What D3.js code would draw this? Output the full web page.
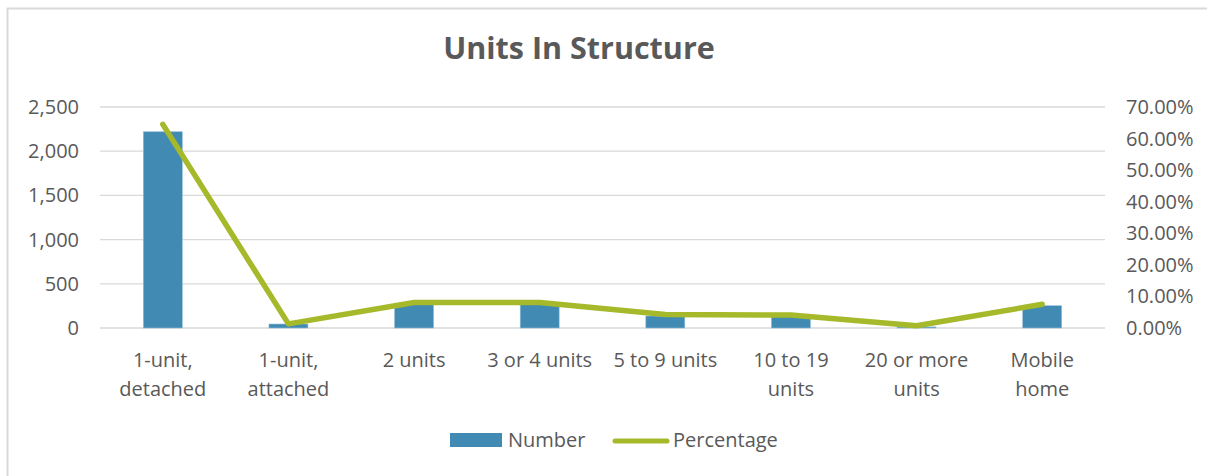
<!DOCTYPE html>
<html>
<head>
<meta charset="utf-8">
<script src="https://cdn.jsdelivr.net/npm/d3@7"></script>
<style>
  body { margin: 0; background: #fff; }
  text { font-family: "Open Sans", sans-serif; fill: #595959; }
</style>
</head>
<body>
<div id="chart"></div>
<script>
var categories = [["1-unit,", "detached"], ["1-unit,", "attached"], ["2 units"], ["3 or 4 units"],
    ["5 to 9 units"], ["10 to 19", "units"], ["20 or more", "units"], ["Mobile", "home"]];
var numbers = [2220, 45, 280, 280, 136, 130, 12, 252];
var percentages = [0.645, 0.013, 0.081, 0.081, 0.043, 0.041, 0.007, 0.075];
var leftTicks = [0, 500, 1000, 1500, 2000, 2500];
var rightTicks = [0, 0.1, 0.2, 0.3, 0.4, 0.5, 0.6, 0.7];

var ctx = {
    w: 1207,
    h: 476,
    left: 100,
    right: 1105,
    top: 107,
    bottom: 328,
    fontSize: "20px",
    barColor: "#418ab3",
    lineColor: "#a5b92a",
    gridColor: "#d9d9d9",
};

var svg = d3.select("#chart").append("svg")
    .attr("width", ctx.w)
    .attr("height", ctx.h);

// chart border (right/bottom edges fall outside the picture)
svg.append("rect")
    .attr("x", 7.5).attr("y", 8.5)
    .attr("width", 1210).attr("height", 480)
    .attr("fill", "none")
    .attr("stroke", ctx.gridColor)
    .attr("stroke-width", 2);

var x = d3.scaleBand()
    .domain(d3.range(categories.length))
    .range([ctx.left, ctx.right])
    .paddingInner(0.69)
    .paddingOuter(0.345);

var xc = d3.scaleBand()
    .domain(d3.range(categories.length))
    .range([ctx.left, ctx.right]);

var yLeft = d3.scaleLinear().domain([0, 2500]).range([ctx.bottom, ctx.top]);
var yRight = d3.scaleLinear().domain([0, 0.7]).range([ctx.bottom, ctx.top]);

// gridlines
svg.append("g").selectAll("line")
    .data(leftTicks)
    .enter().append("line")
    .attr("x1", ctx.left).attr("x2", ctx.right)
    .attr("y1", d => yLeft(d)).attr("y2", d => yLeft(d))
    .attr("stroke", ctx.gridColor)
    .attr("stroke-width", 1.3);

// left axis labels
svg.append("g").selectAll("text")
    .data(leftTicks)
    .enter().append("text")
    .attr("x", 79)
    .attr("y", d => yLeft(d))
    .attr("dy", "0.35em")
    .attr("text-anchor", "end")
    .attr("font-size", ctx.fontSize)
    .text(d => d3.format(",")(d));

// right axis labels
svg.append("g").selectAll("text")
    .data(rightTicks)
    .enter().append("text")
    .attr("x", 1126)
    .attr("y", d => yRight(d))
    .attr("dy", "0.35em")
    .attr("font-size", ctx.fontSize)
    .text(d => d3.format(".2%")(d));

// bars
svg.append("g").selectAll("rect")
    .data(numbers)
    .enter().append("rect")
    .attr("x", (d, i) => x(i))
    .attr("width", x.bandwidth())
    .attr("y", d => yLeft(d))
    .attr("height", d => ctx.bottom - yLeft(d))
    .attr("fill", ctx.barColor)
    .attr("stroke", "#8fbcd6")
    .attr("stroke-width", 0.6);

// percentage line
var line = d3.line()
    .x((d, i) => xc(i) + xc.bandwidth() / 2)
    .y(d => yRight(d));

svg.append("path")
    .datum(percentages)
    .attr("d", line)
    .attr("fill", "none")
    .attr("stroke", ctx.lineColor)
    .attr("stroke-width", 5.5)
    .attr("stroke-linecap", "round")
    .attr("stroke-linejoin", "round");

// category labels
var catG = svg.append("g").selectAll("text")
    .data(categories)
    .enter().append("text")
    .attr("text-anchor", "middle")
    .attr("font-size", ctx.fontSize);
catG.selectAll("tspan")
    .data((d, i) => d.map(t => ({t: t, i: i})))
    .enter().append("tspan")
    .attr("x", d => xc(d.i) + xc.bandwidth() / 2)
    .attr("y", (d, j) => 367 + j * 29)
    .text(d => d.t);

// title
svg.append("text")
    .attr("x", 579)
    .attr("y", 59)
    .attr("text-anchor", "middle")
    .attr("font-size", "30.5px")
    .attr("font-weight", "bold")
    .text("Units In Structure");

// legend
var legend = svg.append("g");
legend.append("rect")
    .attr("x", 450).attr("y", 433)
    .attr("width", 52).attr("height", 14)
    .attr("fill", ctx.barColor);
legend.append("text")
    .attr("x", 508).attr("y", 440)
    .attr("dy", "0.35em")
    .attr("font-size", ctx.fontSize)
    .text("Number");
legend.append("line")
    .attr("x1", 615).attr("x2", 667)
    .attr("y1", 441).attr("y2", 441)
    .attr("stroke", ctx.lineColor)
    .attr("stroke-width", 5)
    .attr("stroke-linecap", "round");
legend.append("text")
    .attr("x", 673).attr("y", 440)
    .attr("dy", "0.35em")
    .attr("font-size", ctx.fontSize)
    .text("Percentage");
</script>
</body>
</html>
